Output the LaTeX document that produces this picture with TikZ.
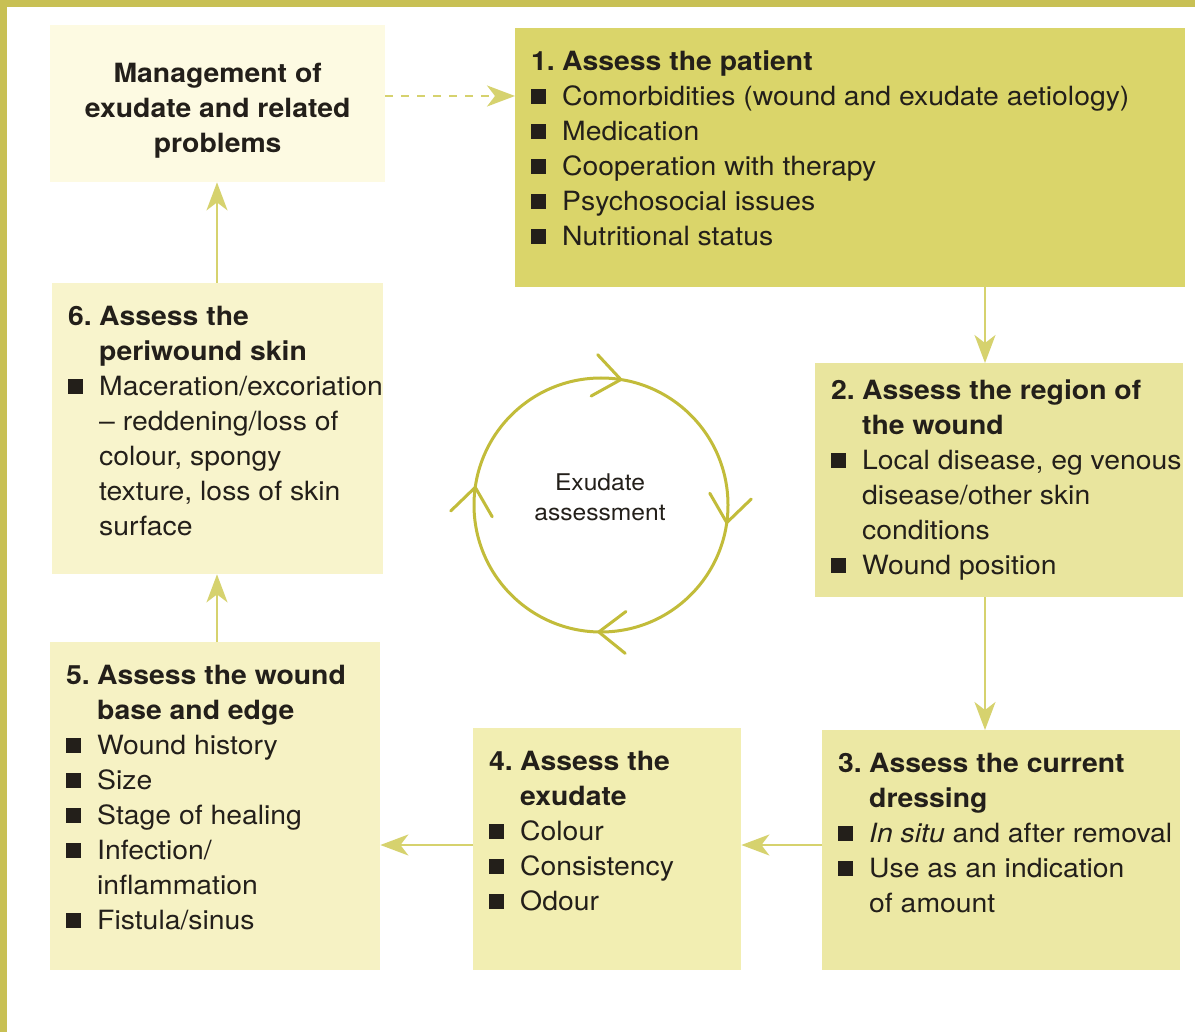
\documentclass[tikz,border=0pt]{standalone}
\usepackage{fontspec}
\setmainfont{TeX Gyre Heros}[FakeStretch=1.07]
\usepackage{xcolor}
\usepackage{tikz}
\usetikzlibrary{arrows.meta,calc}
\definecolor{page edge}{RGB}{200,192,84}
\definecolor{step one}{RGB}{218,213,106}
\definecolor{step two}{RGB}{233,229,158}
\definecolor{step three}{RGB}{236,232,164}
\definecolor{step four}{RGB}{242,238,178}
\definecolor{step five}{RGB}{246,242,196}
\definecolor{step six}{RGB}{248,244,204}
\definecolor{step mgmt}{RGB}{253,250,226}
\definecolor{flow line}{RGB}{214,210,110}
\definecolor{ring line}{RGB}{194,188,58}
\definecolor{ink}{RGB}{35,31,26}
\newcommand{\sq}{\rule[1pt]{15pt}{15pt}}
\newcommand{\ttl}[3][42pt]{\noindent\mbox{\rule{0pt}{#1}\makebox[31pt][l]{\bfseries #2}\textbf{#3}}\par}
\newcommand{\cnt}[1]{\noindent\mbox{\hspace*{31pt}#1}\par}
\newcommand{\itm}[1]{\noindent\mbox{\makebox[31pt][l]{\sq}#1}\par}
\newcommand{\boxbody}[3]{\parbox[c][#2][t]{#1}{\fontsize{26.5}{35}\selectfont #3}}
\tikzset{stepbox/.style={anchor=north west, inner xsep=16pt, inner ysep=0pt, text=ink},
    flow/.style={draw=flow line, line width=2pt, -{Stealth[length=28pt, width=21pt, inset=8pt]}},
    ring/.style={draw=ring line, line width=3pt, line cap=round, line join=round}}

\begin{document}
\begin{tikzpicture}[x=1pt, y=-1pt]
    \fill[white] (0,0) rectangle (1195,1032);
    \useasboundingbox (0,0) rectangle (1195,1032);
    \fill[page edge] (0,0) rectangle (1195,7);
    \fill[page edge] (0,0) rectangle (7,1032);

    \node[stepbox, fill=step mgmt] (mg) at (50,25) {\parbox[c][157pt][t]{303pt}{\centering
        \fontsize{26.5}{35}\selectfont\bfseries
        \rule{0pt}{57pt}Management of\\ exudate and related\\ problems}};
    \node[stepbox, fill=step one] (p1) at (515,28) {\boxbody{638pt}{259pt}{
        \ttl{1.}{Assess the patient}
        \itm{Comorbidities (wound and exudate aetiology)}
        \itm{Medication}
        \itm{Cooperation with therapy}
        \itm{Psychosocial issues}
        \itm{Nutritional status}}};
    \node[stepbox, fill=step two] (p2) at (815,363) {\boxbody{336pt}{234pt}{
        \ttl[36pt]{2.}{Assess the region of}
        \cnt{\textbf{the wound}}
        \itm{Local disease, eg venous}
        \cnt{disease/other skin}
        \cnt{conditions}
        \itm{Wound position}}};
    \node[stepbox, fill=step three] (p3) at (822,730) {\boxbody{326pt}{240pt}{
        \ttl{3.}{Assess the current}
        \cnt{\textbf{dressing}}
        \itm{\textit{In situ} and after removal}
        \itm{Use as an indication}
        \cnt{of amount}}};
    \node[stepbox, fill=step four] (p4) at (473,728) {\boxbody{236pt}{242pt}{
        \ttl{4.}{Assess the}
        \cnt{\textbf{exudate}}
        \itm{Colour}
        \itm{Consistency}
        \itm{Odour}}};
    \node[stepbox, fill=step five] (p5) at (50,642) {\boxbody{298pt}{328pt}{
        \ttl{5.}{Assess the wound}
        \cnt{\textbf{base and edge}}
        \itm{Wound history}
        \itm{Size}
        \itm{Stage of healing}
        \itm{Infection/}
        \cnt{inflammation}
        \itm{Fistula/sinus}}};
    \node[stepbox, fill=step six] (p6) at (52,283) {\boxbody{299pt}{291pt}{
        \ttl{6.}{Assess the}
        \cnt{\textbf{periwound skin}}
        \itm{Maceration/excoriation}
        \cnt{-- reddening/loss of}
        \cnt{colour, spongy}
        \cnt{texture, loss of skin}
        \cnt{surface}}};

    % exudate assessment cycle
    \coordinate (c) at (601,505);
    \draw[ring] (c) circle[radius=127pt];
    \foreach \a in {81,-8,-91,172}
        \draw[ring] ($(c)+(\a:127pt)+(\a+52:34pt)$) -- ($(c)+(\a:127pt)$)
            -- ($(c)+(\a:127pt)+(\a+128:34pt)$);
    \node[text=ink, align=center, font=\fontsize{23}{30}\selectfont] (ring) at (600,497)
        {Exudate\\assessment};

    \coordinate (colR) at (985,0);
    \coordinate (colL) at (217,0);
    \coordinate (rowT) at (0,96);
    \coordinate (rowB) at (0,845);
    \draw[flow, dash pattern=on 8pt off 8pt] (mg.east |- rowT) -- (p1.west |- rowT);
    \draw[flow] (p1.south -| colR) -- (p2.north -| colR);
    \draw[flow] (p2.south -| colR) -- (p3.north -| colR);
    \draw[flow] (p3.west |- rowB) -- (p4.east |- rowB);
    \draw[flow] (p4.west |- rowB) -- (p5.east |- rowB);
    \draw[flow] (p5.north -| colL) -- (p6.south -| colL);
    \draw[flow] (p6.north -| colL) -- (mg.south -| colL);
\end{tikzpicture}
\end{document}
